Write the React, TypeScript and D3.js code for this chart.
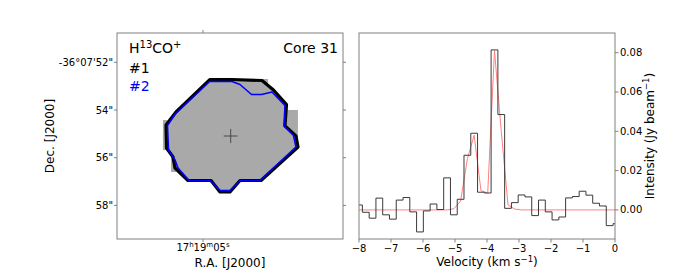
import { useEffect, useRef } from 'react';
import * as d3 from 'd3';

// spectrum channels (km/s) and intensities (Jy/beam)
const velocity = [
  -8.0, -7.788, -7.577, -7.365, -7.153, -6.942, -6.73, -6.518, -6.306, -6.095,
  -5.883, -5.671, -5.46, -5.248, -5.036, -4.825, -4.613, -4.401, -4.189, -3.978,
  -3.766, -3.554, -3.343, -3.131, -2.919, -2.708, -2.496, -2.284, -2.072, -1.861,
  -1.649, -1.437, -1.226, -1.014, -0.802, -0.591, -0.379, -0.167, 0.045,
];
const intensity = [
  0.0025, -0.0012, -0.0042, 0.006, -0.0025, -0.0047, 0.005, 0.0063, -0.001, -0.0112,
  -0.0005, 0.003, 0.0002, 0.0163, -0.0025, 0.0054, 0.0278, 0.039, 0.009, 0.0086,
  0.0814, 0.0485, 0.0008, 0.0037, 0.0076, 0.0066, -0.0029, 0.005, -0.001, -0.0051,
  -0.0036, 0.0061, 0.0068, 0.0095, 0.0075, 0.0034, 0.002, -0.008, -0.007,
];
const fit = [
  0, 0, 0, 0, 0, 0, 0, 0, 0, 0,
  0, 0, 0, 0, 0.0006, 0.0045, 0.026, 0.038, 0.0098, 0.0086,
  0.081, 0.04, 0.0025, 0.0004, 0, 0, 0, 0, 0, 0,
  0, 0, 0, 0, 0, 0, 0, 0, 0,
];
const velTicks = [-8, -7, -6, -5, -4, -3, -2, -1, 0];
const intTicks = [0, 0.02, 0.04, 0.06, 0.08];

// map: offsets in arcsec from 17h19m05s (x) and Dec seconds past -36d07m (y)
const decTicks = [52, 54, 56, 58];
const decLabels = ['-36°07\'52"', '54"', '56"', '58"'];
const contour1: [number, number][] = [
  [0.294, 52.721], [1.216, 52.721], [2.474, 52.763], [2.956, 53.161], [3.501, 53.769],
  [3.438, 54.671], [3.899, 55.09], [3.983, 55.551], [2.432, 56.956], [1.551, 56.956],
  [1.132, 57.438], [0.713, 57.438], [0.335, 56.956], [-0.629, 56.956], [-1.174, 56.432],
  [-1.258, 55.971], [-1.53, 55.593], [-1.551, 54.629], [-1.132, 54.084],
];
const contour2: [number, number][] = [
  [0.273, 52.805], [1.216, 52.805], [1.551, 52.931], [2.034, 53.35], [2.453, 53.35],
  [2.893, 53.245], [3.438, 53.811], [3.396, 54.65], [3.795, 55.069], [3.899, 55.551],
  [2.39, 56.956], [1.551, 56.956], [1.132, 57.375], [0.713, 57.375], [0.294, 56.956],
  [-0.587, 56.956], [-1.048, 56.432], [-1.174, 56.097], [-1.447, 55.677], [-1.489, 54.65],
  [-1.174, 54.168],
];
// extra mask pixels outside the outer contour: [x0, x1, y0, y1]
const maskBlocks = [
  [3.45, 3.98, 54.0, 55.64],
  [-1.68, -1.5, 54.42, 55.68],
  [-1.34, -1.13, 55.68, 56.6],
  [2.47, 2.73, 52.7, 52.91],
];
const centre = [1.161, 55.09];

const App = () => {
  const ref = useRef<SVGSVGElement>(null);

  useEffect(() => {
    const svg = d3.select(ref.current);
    svg.selectAll('*').remove();
    const font = 'DejaVu Sans, sans-serif';
    const frameCol = '#808080';

    // ---------- left panel: map ----------
    const L = { left: 117, right: 343, top: 33, bottom: 239 };
    const mx = d3.scaleLinear().domain([-3.606, 5.87]).range([L.left, L.right]);
    const my = d3.scaleLinear().domain([50.771, 59.409]).range([L.top, L.bottom]);
    const gl = svg.append('g');

    const poly = d3.line<[number, number]>().x((d) => mx(d[0])).y((d) => my(d[1])).curve(d3.curveLinearClosed);

    gl.selectAll('rect.mask')
      .data(maskBlocks)
      .join('rect')
      .attr('x', (d) => mx(d[0]))
      .attr('width', (d) => mx(d[1]) - mx(d[0]))
      .attr('y', (d) => my(d[2]))
      .attr('height', (d) => my(d[3]) - my(d[2]))
      .attr('fill', '#a9a9a9');
    gl.append('path').attr('d', poly(contour1)).attr('fill', '#a9a9a9');
    gl.append('path')
      .attr('d', poly(contour1))
      .attr('fill', 'none')
      .attr('stroke', '#000')
      .attr('stroke-width', 3.2)
      .attr('stroke-linejoin', 'round');
    gl.append('path')
      .attr('d', poly(contour2))
      .attr('fill', 'none')
      .attr('stroke', '#0000ff')
      .attr('stroke-width', 1.6)
      .attr('stroke-linejoin', 'round');

    // centre cross
    const cx = mx(centre[0]), cy = my(centre[1]);
    gl.append('line').attr('x1', cx - 7).attr('x2', cx + 7).attr('y1', cy).attr('y2', cy).attr('stroke', '#333').attr('stroke-width', 0.8);
    gl.append('line').attr('x1', cx).attr('x2', cx).attr('y1', cy - 7).attr('y2', cy + 7).attr('stroke', '#333').attr('stroke-width', 0.8);

    gl.append('rect')
      .attr('x', L.left).attr('y', L.top)
      .attr('width', L.right - L.left).attr('height', L.bottom - L.top)
      .attr('fill', 'none').attr('stroke', frameCol).attr('stroke-width', 1);

    decTicks.forEach((t, i) => {
      const y = my(t);
      gl.append('line').attr('x1', L.left - 3).attr('x2', L.left).attr('y1', y).attr('y2', y).attr('stroke', frameCol);
      gl.append('line').attr('x1', L.right).attr('x2', L.right + 3).attr('y1', y).attr('y2', y).attr('stroke', frameCol);
      gl.append('text')
        .attr('x', L.left - 4).attr('y', y + 3.5)
        .attr('text-anchor', 'end')
        .attr('font-family', font).attr('font-size', 10)
        .text(decLabels[i]);
    });
    gl.append('line').attr('x1', mx(0)).attr('x2', mx(0)).attr('y1', L.top - 3).attr('y2', L.top).attr('stroke', frameCol);
    gl.append('line').attr('x1', mx(0)).attr('x2', mx(0)).attr('y1', L.bottom).attr('y2', L.bottom + 3).attr('stroke', frameCol);

    const raTxt = gl.append('text')
      .attr('x', mx(0)).attr('y', 251)
      .attr('text-anchor', 'middle')
      .attr('font-family', font).attr('font-size', 10);
    [['17', ''], ['h', 'sup'], ['19', ''], ['m', 'sup'], ['05', ''], ['s', 'sup']].forEach(([s, k], i, arr) => {
      const ts = raTxt.append('tspan').text(s);
      if (k === 'sup') ts.attr('font-size', 7).attr('dy', -4);
      else if (i > 0 && arr[i - 1][1] === 'sup') ts.attr('dy', 4);
    });

    gl.append('text')
      .attr('x', (L.left + L.right) / 2).attr('y', 267)
      .attr('text-anchor', 'middle')
      .attr('font-family', font).attr('font-size', 12)
      .text('R.A. [J2000]');
    gl.append('text')
      .attr('transform', `translate(54, ${(L.top + L.bottom) / 2}) rotate(-90)`)
      .attr('text-anchor', 'middle')
      .attr('font-family', font).attr('font-size', 12)
      .text('Dec. [J2000]');

    const title = gl.append('text').attr('x', 129).attr('y', 53).attr('font-family', font).attr('font-size', 14);
    title.append('tspan').text('H');
    title.append('tspan').text('13').attr('font-size', 10).attr('dy', -5);
    title.append('tspan').text('CO').attr('dy', 5);
    title.append('tspan').text('+').attr('font-size', 10).attr('dy', -5);
    gl.append('text').attr('x', 338).attr('y', 53).attr('text-anchor', 'end').attr('font-family', font).attr('font-size', 14).text('Core 31');
    gl.append('text').attr('x', 129).attr('y', 73).attr('font-family', font).attr('font-size', 14).text('#1');
    gl.append('text').attr('x', 129).attr('y', 91).attr('font-family', font).attr('font-size', 14).attr('fill', '#0000ff').text('#2');

    // ---------- right panel: spectrum ----------
    const R = { left: 359, right: 615, top: 33, bottom: 239 };
    const x = d3.scaleLinear().domain([-8, 0]).range([R.left, R.right]);
    const y = d3.scaleLinear().domain([-0.0148, 0.09]).range([R.bottom, R.top]);
    const gr = svg.append('g');

    svg.append('clipPath').attr('id', 'spec-clip')
      .append('rect').attr('x', R.left).attr('y', R.top).attr('width', R.right - R.left).attr('height', R.bottom - R.top);

    const pts = velocity.map((v, i) => ({ v, f: intensity[i], g: fit[i] }));
    gr.append('path')
      .datum(pts)
      .attr('clip-path', 'url(#spec-clip)')
      .attr('fill', 'none')
      .attr('stroke', '#ff8080')
      .attr('stroke-width', 1)
      .attr('d', d3.line<any>().x((d) => x(d.v)).y((d) => y(d.g)));
    gr.append('path')
      .datum(pts)
      .attr('clip-path', 'url(#spec-clip)')
      .attr('fill', 'none')
      .attr('stroke', '#3a3a3a')
      .attr('stroke-width', 1)
      .attr('d', d3.line<any>().curve(d3.curveStep).x((d) => x(d.v)).y((d) => y(d.f)));

    gr.append('rect')
      .attr('x', R.left).attr('y', R.top)
      .attr('width', R.right - R.left).attr('height', R.bottom - R.top)
      .attr('fill', 'none').attr('stroke', frameCol).attr('stroke-width', 1);

    velTicks.forEach((t) => {
      gr.append('line').attr('x1', x(t)).attr('x2', x(t)).attr('y1', R.bottom).attr('y2', R.bottom + 3.5).attr('stroke', frameCol);
      gr.append('text')
        .attr('x', x(t)).attr('y', 252)
        .attr('text-anchor', 'middle')
        .attr('font-family', font).attr('font-size', 10)
        .text(d3.format('')(t).replace('-', '\u2212'));
    });
    intTicks.forEach((t) => {
      gr.append('line').attr('x1', R.right).attr('x2', R.right + 3.5).attr('y1', y(t)).attr('y2', y(t)).attr('stroke', frameCol);
      gr.append('text')
        .attr('x', R.right + 5).attr('y', y(t) + 3.5)
        .attr('font-family', font).attr('font-size', 10)
        .text(d3.format('.2f')(t));
    });

    const vl = gr.append('text')
      .attr('x', (R.left + R.right) / 2).attr('y', 266)
      .attr('text-anchor', 'middle')
      .attr('font-family', font).attr('font-size', 12);
    vl.append('tspan').text('Velocity (km s');
    vl.append('tspan').text('\u22121').attr('font-size', 8.5).attr('dy', -4.5);
    vl.append('tspan').text(')').attr('dy', 4.5);

    const il = gr.append('text')
      .attr('transform', `translate(654, ${(R.top + R.bottom) / 2}) rotate(-90)`)
      .attr('text-anchor', 'middle')
      .attr('font-family', font).attr('font-size', 12);
    il.append('tspan').text('Intensity (Jy beam');
    il.append('tspan').text('\u22121').attr('font-size', 8.5).attr('dy', -5);
    il.append('tspan').text(')').attr('dy', 5);
  }, []);

  return (
    <svg
      ref={ref}
      width={684}
      height={274}
      style={{ position: 'absolute', left: 0, top: 0, background: '#fff' }}
    />
  );
};

export default App;
